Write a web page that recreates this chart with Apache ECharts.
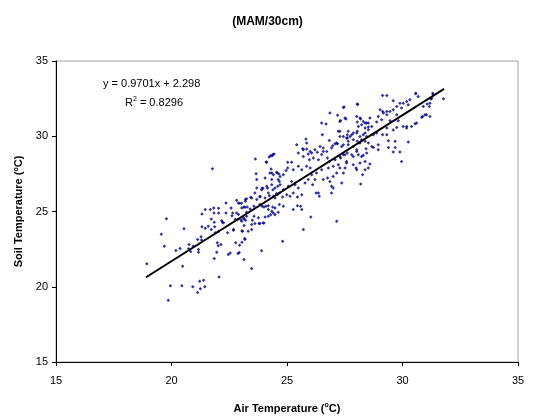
<!DOCTYPE html>
<html>
<head>
<meta charset="utf-8">
<script src="https://cdn.jsdelivr.net/npm/echarts@6/dist/echarts.min.js"></script>
<style>
html, body { margin: 0; padding: 0; background: #fff; }
#container { width: 535px; height: 419px; }
</style>
</head>
<body>
<div id="container"></div>
<script>
var chartTitle = '(MAM/30cm)';

// [air temperature, soil temperature]
var observations = [
    [18.93,21.52],[19.86,19.11],[19.95,20.07],[20.45,20.07],[20.92,20.0],[21.13,19.62],[21.25,19.87],[21.22,20.37],
    [21.39,20.44],[21.44,20.0],[22.06,20.64],[20.48,21.37],[19.69,22.69],[19.56,23.49],[19.78,24.51],[20.19,22.41],
    [20.37,22.54],[20.54,23.85],[20.76,22.8],[20.74,22.52],[20.83,22.34],[20.94,22.69],[21.17,22.47],[21.17,22.3],
    [21.13,23.14],[21.28,23.32],[21.3,23.1],[21.32,23.98],[21.46,23.89],[21.59,24.02],[21.32,24.84],[21.46,25.13],
    [21.68,25.13],[21.83,25.24],[21.84,24.9],[22.04,25.21],[22.04,24.9],[21.72,23.8],[21.85,24.29],[21.87,23.98],
    [21.9,23.58],[22.03,23.67],[21.98,22.92],[22.02,22.73],[22.14,22.8],[21.96,22.3],[21.85,21.88],[22.2,24.29],
    [22.25,24.25],[22.36,25.57],[22.36,24.9],[22.43,23.58],[22.46,22.14],[22.54,22.25],[22.69,23.8],[22.78,22.92],
    [22.88,22.21],[22.93,22.28],[22.95,22.76],[23.05,22.96],[23.14,21.81],[23.18,23.14],[22.65,24.9],[22.82,24.9],
    [22.9,24.8],[22.86,24.46],[23.0,24.46],[23.04,24.36],[23.14,24.5],[23.2,24.42],[23.08,23.69],[22.82,25.74],
    [22.95,25.55],[23.03,25.55],[23.2,25.68],[23.13,25.3],[23.28,25.3],[23.2,25.8],[22.58,25.24],[21.72,24.5],
    [21.77,27.84],[23.63,28.49],[24.23,28.62],[24.3,28.7],[24.39,28.79],[24.1,28.29],[24.31,27.82],[23.66,27.51],
    [24.34,27.56],[24.58,27.56],[24.65,27.49],[23.69,27.12],[23.92,26.54],[23.96,26.54],[24.16,26.56],[24.39,26.45],
    [24.19,26.23],[23.83,26.01],[23.61,26.23],[23.43,25.95],[22.89,25.57],[23.18,25.28],[23.25,24.95],[22.62,24.71],
    [22.76,24.48],[23.5,24.42],[22.17,24.38],[22.68,23.76],[23.05,23.71],[23.47,23.8],[23.61,24.2],[23.79,24.2],
    [23.17,23.2],[23.92,25.35],[24.09,25.35],[24.19,25.13],[24.34,25.01],[24.48,25.24],[24.48,24.79],[24.19,24.68],
    [23.97,24.24],[24.48,25.9],[24.55,26.19],[24.67,26.23],[24.6,26.67],[24.67,27.0],
    [26.5,30.88],[26.69,30.81],[27.32,31.05],[26.53,30.1],[27.22,30.33],[27.29,29.99],[27.61,30.1],[27.61,29.88],
    [26.83,29.72],[26.98,29.37],[27.08,29.5],[27.18,29.5],[25.82,29.81],[25.42,29.43],[25.68,29.17],[24.44,28.82],
    [24.36,28.71],[24.12,28.27],[25.03,28.27],[25.2,28.27],[25.03,27.89],[24.96,27.73],[25.27,27.78],[25.49,28.89],
    [25.85,29.15],[25.92,28.82],[26.07,28.89],[26.21,29.11],[26.31,28.93],[26.5,28.78],[26.57,28.99],[25.71,28.66],
    [25.97,28.44],[26.14,28.55],[26.36,28.44],[26.75,28.55],[26.83,28.33],[27.08,28.44],[27.29,28.66],[27.51,28.77],
    [27.61,28.89],[25.49,28.0],[25.64,27.78],[25.85,28.0],[26.0,27.89],[26.07,27.45],[26.28,27.56],[26.5,27.78],
    [26.79,27.89],[27.0,28.0],[27.15,27.56],[27.29,27.89],[27.22,28.11],[26.21,27.12],[26.57,27.12],[26.75,27.23],
    [27.0,27.33],[26.86,27.0],[26.36,26.23],[27.0,26.56],[26.93,26.23],[26.4,26.01],[26.26,26.23],[27.15,24.35],
    [26.03,24.64],[25.71,23.8],[24.81,23.02],[23.32,23.69],[23.14,24.07],[23.47,24.13],[23.83,24.2],[24.0,24.24],
    [23.11,24.58],[23.25,24.68],[23.57,24.68],[23.76,24.58],[24.05,24.64],[24.29,24.79],[24.41,24.9],[24.62,24.95],
    [23.04,25.24],[23.4,25.17],[23.57,25.35],[23.83,25.46],[24.0,25.3],[24.19,25.39],[24.38,25.3],[24.67,25.46],
    [24.84,25.35],[23.25,25.84],[23.47,25.9],[23.69,25.79],[23.83,25.97],[24.05,25.9],[24.24,26.05],[24.41,26.01],
    [24.58,26.12],[24.81,25.97],[24.99,26.12],[25.13,26.01],[25.27,26.23],[25.45,25.97],[25.64,26.12],[25.59,25.35],
    [25.64,25.13],[25.45,25.39],[25.27,25.13],[23.69,26.56],[23.9,26.45],[24.12,26.67],[24.34,26.78],[24.48,26.56],
    [24.7,26.78],[24.84,26.45],[25.06,26.67],[25.2,27.0],[25.35,26.78],[25.49,26.56],[25.78,26.9],[25.92,27.12],
    [26.11,26.78],[24.26,27.56],[24.41,27.45],[24.55,27.6],[24.7,27.33],[24.84,27.45],[24.62,27.12],[24.34,27.12],
    [24.05,27.23],
    [27.47,31.94],[28.06,32.11],[26.86,31.54],[27.19,31.39],[27.51,31.21],[27.29,30.98],[28.02,31.31],[28.19,31.14],
    [28.3,30.98],[28.45,30.88],[28.09,30.65],[28.23,30.76],[28.38,30.54],[28.52,30.61],[27.29,30.33],[27.65,30.33],
    [27.8,30.1],[28.02,30.21],[28.16,29.99],[28.3,30.1],[28.45,29.99],[27.87,29.77],[27.58,29.88],[28.16,29.55],
    [28.38,29.66],[28.52,29.55],[25.85,29.55],[25.71,29.11],[26.0,28.99],[26.43,29.32],[26.57,29.22],[26.72,28.99],
    [26.93,29.22],[27.15,29.55],[27.37,29.32],[27.44,28.77],[27.87,28.66],[28.02,28.99],[28.23,28.66],[28.45,28.89],
    [27.58,28.33],[27.87,28.11],[28.16,28.22],[28.38,28.33],[28.02,27.78],[28.52,27.89],[27.44,27.56],[26.93,26.67],
    [27.37,26.9],[28.27,27.45],
    [31.77,32.49],[31.31,32.86],[31.26,32.53],[31.19,32.2],[31.07,32.14],[30.9,31.98],[30.57,32.82],[30.68,32.64],
    [30.32,32.42],[30.18,32.31],[30.03,32.2],[30.25,32.09],[30.83,31.27],[31.04,31.43],[31.19,31.31],[30.61,30.88],
    [30.39,30.65],[30.18,30.65],[30.03,30.65],[30.25,29.61],[29.96,28.33],[29.89,28.95],[29.6,28.95],[29.68,29.26],
    [29.68,29.66],[29.39,29.26],[29.39,29.7],[29.32,30.1],[29.6,30.41],[29.75,30.58],[29.82,31.03],[29.46,31.03],
    [29.32,31.43],[29.32,31.64],[29.14,31.64],[29.14,32.71],[29.32,32.71],[29.6,32.36],[29.89,32.2],[29.75,31.98],
    [29.96,31.87],[29.6,31.76],[29.75,31.43],[29.03,31.76],[28.95,31.31],[29.1,31.09],[28.88,30.94],[29.14,30.1],
    [28.95,29.44],[28.95,29.11],[28.74,29.26],[28.67,29.32],[28.42,29.17],[28.3,28.73],[28.59,28.16],[28.38,27.78],
    [28.19,26.83],[27.99,27.89],[27.58,28.22],[27.51,27.89],[27.32,28.55],[27.65,29.44],[27.44,29.44],[27.44,29.99],
    [27.65,29.66],[27.87,29.32],[28.04,29.66],[28.23,29.77],[28.38,30.21],[28.52,30.43],[28.52,30.88],[28.38,30.88],
    [28.16,31.21],[28.04,30.94],[28.04,30.33],[27.87,30.21],[27.73,29.99],[27.55,31.14],[27.44,31.91],[28.04,32.14],
    [28.59,31.21],[28.67,30.65],[28.74,30.1],[28.88,30.21],[29.32,30.54],[28.09,28.77],[27.8,28.77],[28.02,29.11],
    [31.33,32.75],[31.23,32.47],[31.16,31.98],[30.97,31.43],[30.87,31.31],[30.54,30.83],[30.18,30.54],[30.58,32.86],
    [29.18,31.54],[29.46,31.64],[23.9,22.4],[23.47,21.21]
];

var trendSlope = 0.9701;
var trendIntercept = 2.298;
var rSquared = 0.8296;
var trendRange = [18.9, 31.8];
var axisMin = 15;
var axisMax = 35;
var tickStep = 5;

var trendLine = trendRange.map(function (x) {
    return [x, trendSlope * x + trendIntercept];
});

var font = '"Liberation Sans", Arial, sans-serif';
var supStyle = { fontSize: 7, fontFamily: font, fontWeight: 'bold', color: '#000', padding: [0, 0, 6, 0] };

var dom = document.getElementById('container');
var myChart = echarts.init(dom, null, { renderer: 'canvas' });

var option = {
    animation: false,
    backgroundColor: '#fff',
    title: {
        text: chartTitle,
        left: 'center',
        top: 11,
        textStyle: { fontFamily: font, fontSize: 12, fontWeight: 'bold', color: '#000' }
    },
    grid: {
        left: 56, right: 17, top: 61, bottom: 56,
        show: true,
        borderColor: '#a0a0a0',
        borderWidth: 1,
        backgroundColor: '#fff'
    },
    xAxis: {
        type: 'value',
        min: axisMin, max: axisMax, interval: tickStep,
        name: 'Air Temperature ({sup|o}C)',
        nameLocation: 'middle',
        nameGap: 40,
        nameTextStyle: {
            fontFamily: font, fontSize: 11, fontWeight: 'bold', color: '#000',
            rich: { sup: supStyle }
        },
        axisLine: { lineStyle: { color: '#000', width: 1 } },
        axisTick: { length: 4, lineStyle: { color: '#000' } },
        axisLabel: { margin: 13, fontFamily: font, fontSize: 11, color: '#000' },
        splitLine: { show: false }
    },
    yAxis: {
        type: 'value',
        min: axisMin, max: axisMax, interval: tickStep,
        name: 'Soil Temperature ({sup|o}C)',
        nameLocation: 'middle',
        nameGap: 29,
        nameTextStyle: {
            fontFamily: font, fontSize: 11, fontWeight: 'bold', color: '#000',
            rich: { sup: supStyle }
        },
        axisLine: { show: true, lineStyle: { color: '#000', width: 1 } },
        axisTick: { show: true, length: 4, lineStyle: { color: '#000' } },
        axisLabel: { margin: 8, fontFamily: font, fontSize: 11, color: '#000' },
        splitLine: { show: false }
    },
    graphic: [
        {
            type: 'text', left: 103, top: 78,
            style: { text: 'y = 0.9701x + 2.298', font: '11px ' + font, fill: '#000' }
        },
        {
            type: 'text', left: 125, top: 96,
            style: {
                text: 'R{s|2} = ' + rSquared,
                font: '11px ' + font, fill: '#000',
                rich: { s: { fontSize: 7, fontFamily: font, padding: [0, 0, 6, 0] } }
            }
        }
    ],
    series: [
        {
            name: 'Observations',
            type: 'scatter',
            data: observations,
            symbol: 'diamond',
            symbolSize: 3.5,
            itemStyle: { color: '#000080' },
            silent: true
        },
        {
            name: 'Linear trend',
            type: 'line',
            data: trendLine,
            symbol: 'none',
            lineStyle: { color: '#000', width: 2 },
            silent: true,
            z: 3
        }
    ]
};

if (option && typeof option === 'object') {
    myChart.setOption(option);
}

window.addEventListener('resize', myChart.resize);
</script>
</body>
</html>
